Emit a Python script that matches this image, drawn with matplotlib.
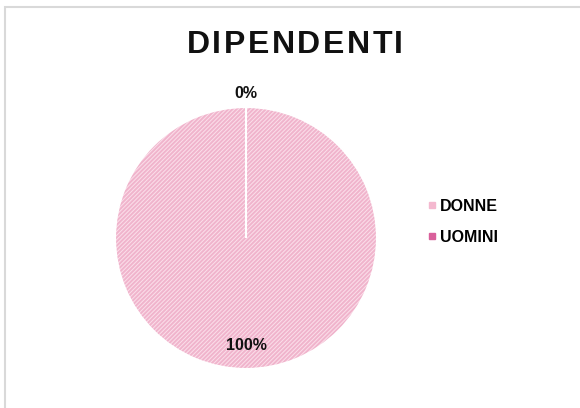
import numpy as np
import matplotlib.pyplot as plt
from matplotlib.patches import Rectangle
from matplotlib.lines import Line2D

plt.rcParams['font.family'] = ['Liberation Sans', 'DejaVu Sans']
plt.rcParams['hatch.linewidth'] = 1.4

categories = ["DONNE", "UOMINI"]
values = [100, 0]
colors = ["#f4b8cf", "#d9609b"]
title = "DIPENDENTI"

fig = plt.figure(figsize=(5.8, 4.08), dpi=100)

# grey chart-area border
fig.patches.append(Rectangle((5 / 580, -0.05), 1.0, (401 / 408) + 0.05,
                             transform=fig.transFigure, fill=False,
                             edgecolor="#d9d9d9", linewidth=1.5))

ax = fig.add_axes([115 / 580, 39 / 408, 262 / 580, 262 / 408])

# hatched fill
wedges, _ = ax.pie(values, startangle=90, counterclock=False,
                   colors=["#fbdfea", "#f7d0e0"],
                   wedgeprops=dict(hatch="////////", edgecolor="#f0b4cc", linewidth=0))
# white slice borders
ax.pie(values, startangle=90, counterclock=False,
       wedgeprops=dict(fill=False, edgecolor="white", linewidth=1.5))

total = sum(values)
for w, v in zip(wedges, values):
    ang = np.deg2rad((w.theta1 + w.theta2) / 2)
    r = 1.1 if v == 0 else 0.82
    ax.text(r * np.cos(ang), r * np.sin(ang), f"{v / total * 100:.0f}%",
            ha="center", va="center", fontsize=11.5, fontweight="bold", color="#111111")

ax.set_xlim(-1, 1)
ax.set_ylim(-1, 1)
ax.set_aspect("equal")

# spaced-out title, one letter at a time
renderer = fig.canvas.get_renderer()
spacing = 2.5
letters = [fig.text(0, 0, ch, fontsize=23, fontweight="bold", color="#111111",
                    va="baseline") for ch in title]
widths = [t.get_window_extent(renderer).width for t in letters]
total_w = sum(widths) + spacing * (len(title) - 1)
x = 295 - total_w / 2
for t, w in zip(letters, widths):
    t.set_position((x / 580, 1 - 53 / 408))
    x += w + spacing

handles = [Line2D([], [], marker="s", linestyle="none", markersize=5,
                  markerfacecolor=c, markeredgecolor=c) for c in colors]
leg = fig.legend(handles, categories, loc="center left",
                 bbox_to_anchor=(413 / 580, 1 - 222 / 408), frameon=False,
                 prop=dict(size=11.5, weight="bold"), handlelength=0.6,
                 handletextpad=0.2, labelspacing=1.0)

fig.savefig("out.png", dpi=100)
